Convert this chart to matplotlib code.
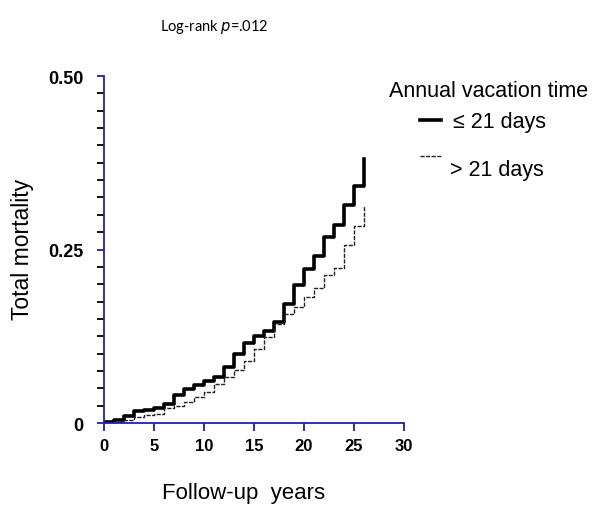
import numpy as np
import matplotlib.pyplot as plt

# follow-up years (step positions) and cumulative mortality per group
years = np.arange(0, 27)
le21 = [0.0015, 0.005, 0.010, 0.017, 0.019, 0.022, 0.028, 0.040, 0.049, 0.055,
        0.061, 0.067, 0.080, 0.0995, 0.115, 0.126, 0.133, 0.145, 0.172, 0.199,
        0.222, 0.241, 0.268, 0.285, 0.314, 0.342, 0.381]
gt21 = [0.0, 0.002, 0.004, 0.009, 0.011, 0.013, 0.021, 0.025, 0.030, 0.037,
        0.044, 0.056, 0.066, 0.076, 0.090, 0.107, 0.124, 0.143, 0.157, 0.167,
        0.181, 0.195, 0.213, 0.224, 0.257, 0.284, 0.313]

xticks = [0, 5, 10, 15, 20, 25, 30]
yticks = [0, 0.25, 0.50]
ytick_labels = ['0', '0.25', '0.50']

axis_blue = '#1f22a6'
font = 'Liberation Sans'

fig = plt.figure(figsize=(5.95, 5.1), dpi=100)
ax = fig.add_axes([0.175, 0.1686, 0.504, 0.6804])

ax.plot(years, le21, drawstyle='steps-post', color='black', lw=2.6)
ax.plot(years, gt21, drawstyle='steps-post', color='#222222', lw=1.0,
        linestyle=(0, (3, 1)))

ax.set_xlim(0, 30)
ax.set_ylim(0, 0.5)
for s in ['top', 'right']:
    ax.spines[s].set_visible(False)
for s in ['left', 'bottom']:
    ax.spines[s].set_color(axis_blue)
    ax.spines[s].set_linewidth(1.3)

ax.set_xticks(xticks)
ax.set_xticklabels([str(t) for t in xticks], fontsize=12, fontweight='bold',
                   family=font)
ax.set_yticks(yticks)
ax.set_yticklabels(ytick_labels, fontsize=13, fontweight='bold', family=font)
ax.set_yticks(np.arange(0, 0.5001, 0.025), minor=True)
ax.tick_params(axis='both', colors=axis_blue, labelcolor='black', width=1.3)
ax.tick_params(axis='x', length=6, pad=5)
ax.tick_params(axis='y', which='both', length=5, pad=10)
ax.tick_params(axis='y', which='minor', width=1.3)

fig.text(0.361, 0.947, 'Log-rank $\\it{p}$=.012', fontsize=10.5,
         family='Lato', ha='center', va='center')
fig.text(0.037, 0.51, 'Total mortality', rotation=90, fontsize=16.5,
         family=font, ha='center', va='center')
fig.text(0.409, 0.032, 'Follow-up  years', fontsize=16,
         family=font, ha='center', va='center')

# legend
fig.text(0.654, 0.82, 'Annual vacation time', fontsize=15.5,
         family=font, ha='left', va='center')
fig.lines.append(plt.Line2D([0.706, 0.741], [0.763, 0.763], color='black',
                            lw=2.6, transform=fig.transFigure))
fig.lines.append(plt.Line2D([0.706, 0.741], [0.693, 0.693], color='#222222',
                            lw=1.0, linestyle=(0, (3, 1)),
                            transform=fig.transFigure))
fig.text(0.761, 0.759, '≤ 21 days', fontsize=15.5, family=font,
         ha='left', va='center')
fig.text(0.757, 0.665, '> 21 days', fontsize=15.5, family=font,
         ha='left', va='center')

fig.savefig('out.png', dpi=100)
